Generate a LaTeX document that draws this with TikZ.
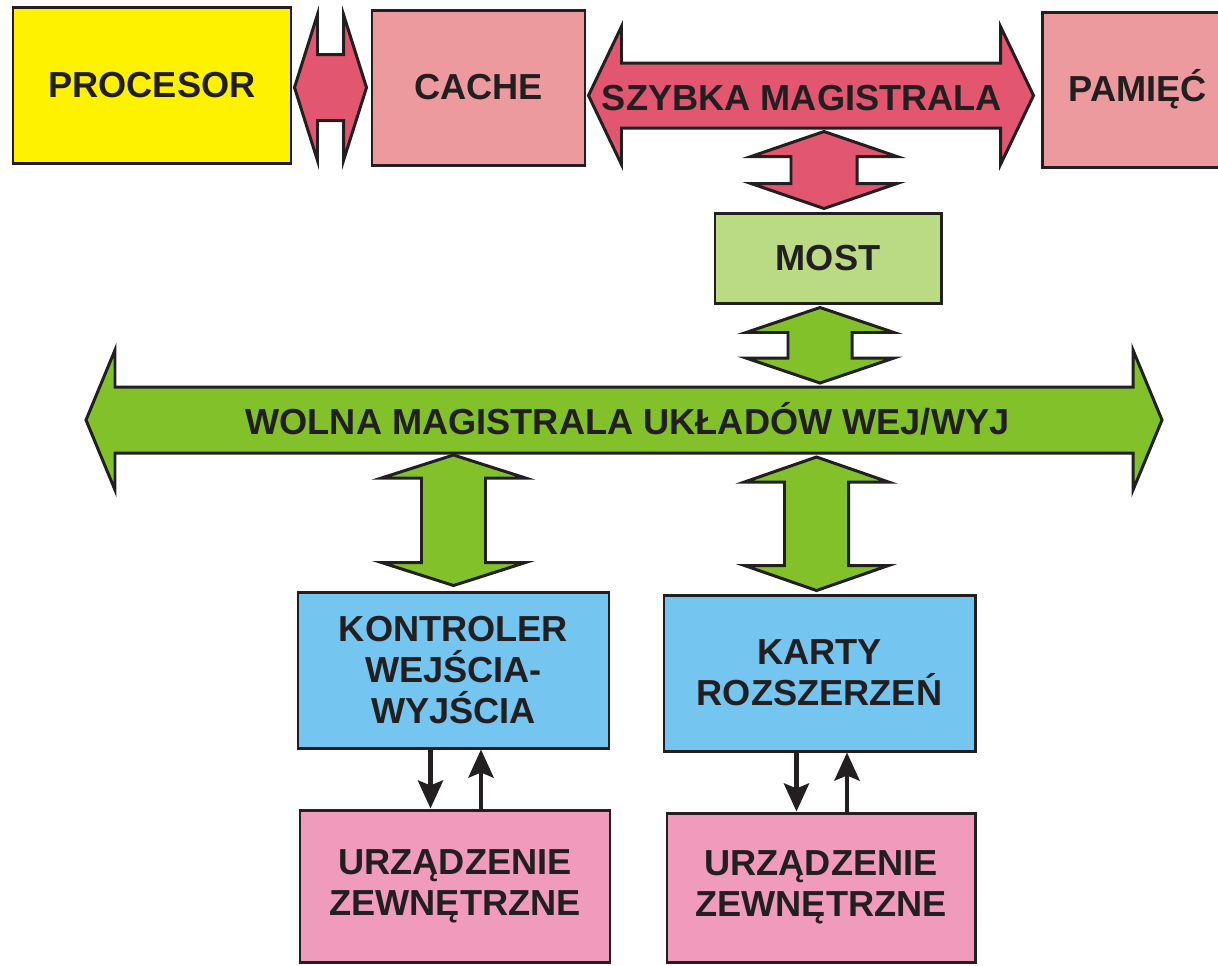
\documentclass[tikz,border=0pt]{standalone}
\usepackage{fontspec}
\setmainfont{Liberation Sans}
\usetikzlibrary{positioning}
\usetikzlibrary{calc}
\usetikzlibrary{arrows.meta}

\definecolor{ink}{HTML}{231F20}
\definecolor{cpufill}{HTML}{FFF200}
\definecolor{memfill}{HTML}{EC9A9E}
\definecolor{fastfill}{HTML}{E25670}
\definecolor{bridgefill}{HTML}{BBDA84}
\definecolor{slowfill}{HTML}{82C12A}
\definecolor{iofill}{HTML}{74C5EF}
\definecolor{devfill}{HTML}{F09ABC}

% fat double arrows: tip, tip, head length, head half width, shaft half width
\newcommand\fath[5]{(#1) -- ++(#3,-#4) -- ++(0,#4-#5) -- ($(#2)+(-#3,-#5)$)
  -- ++(0,#5-#4) -- (#2) -- ++(-#3,#4) -- ++(0,#5-#4) -- ($(#1)+(#3,#5)$)
  -- ++(0,#4-#5) -- cycle}
\newcommand\fatv[5]{(#1) -- ++(#4,#3) -- ++(#5-#4,0) -- ($(#2)+(#5,-#3)$)
  -- ++(#4-#5,0) -- (#2) -- ++(-#4,-#3) -- ++(#4-#5,0) -- ($(#1)+(-#5,#3)$)
  -- ++(#5-#4,0) -- cycle}

\tikzset{
  label font/.style = { font=\bfseries\fontsize{20.6}{23.5}\selectfont, text=ink },
  box/.style        = { rectangle, draw=ink, line width=1.7pt, align=center, label font },
  dims/.style 2 args= { minimum width=#1*0.02cm, minimum height=#2*0.02cm },
  cpu/.style        = { box, fill=cpufill },
  mem/.style        = { box, fill=memfill },
  bridge/.style     = { box, fill=bridgefill },
  ctrl/.style       = { box, fill=iofill },
  device/.style     = { box, fill=devfill },
  buslabel/.style   = { anchor=base, inner sep=0pt, label font },
  fastbus/.style    = { fill=fastfill, draw=ink, line width=1.7pt },
  slowbus/.style    = { fill=slowfill, draw=ink, line width=1.7pt },
  io/.style         = { draw=ink, line width=2.8pt,
                        -{Stealth[length=0.56cm,width=0.5cm,inset=0.1cm]} },
}

\begin{document}
\begin{tikzpicture}[x=0.02cm,y=-0.02cm]
  \useasboundingbox (0,0) rectangle (1218,965);

  \node (procesor)  [cpu,dims={278}{156}]    at (152,85)     {PROCESOR};
  \node (cache)     [mem,dims={213}{155}]    at (478.5,87.5) {CACHE};
  \node (pamiec)    [mem,dims={192}{155}]    at (1138,89.5)  {PAMIĘĆ};
  \node (most)      [bridge,dims={226}{90}]  at (828,258)    {MOST};
  \node (kontroler) [ctrl,dims={311}{156}]   at (453.5,670)  {KONTROLER\\WEJŚCIA-\\WYJŚCIA};
  \node (karty)     [ctrl,dims={311}{156}]   at (819.5,673)  {KARTY\\ROZSZERZEŃ};
  \node (dev1)      [device,dims={310}{152}] at (455,886)    {URZĄDZENIE\\ZEWNĘTRZNE};
  \node (dev2)      [device,dims={308}{149}] at (821,887.5)  {URZĄDZENIE\\ZEWNĘTRZNE};

  % tips of the fat arrows
  \coordinate (pcL)   at ($(procesor.east |- cache.west)+(2,0)$);
  \coordinate (pcR)   at ($(cache.west)+(-4,0)$);
  \coordinate (fastL) at ($(cache.east)+(2,8)$);
  \coordinate (fastR) at ($(pamiec.west)+(-7,6)$);
  \coordinate (slowL) at (86,420);
  \coordinate (slowR) at (1162,420);
  \coordinate (fastT) at ($(most.north)+(-4,-80)$);
  \coordinate (fastB) at ($(most.north)+(-4,-3)$);
  \coordinate (slowT) at ($(most.south)+(-8,3)$);
  \coordinate (slowB) at ($(most.south |- slowL)+(-8,-37)$);
  \coordinate (kT)    at ($(kontroler.north |- slowL)+(0,35)$);
  \coordinate (kB)    at ($(kontroler.north)+(0,-5)$);
  \coordinate (rT)    at ($(karty.north |- slowL)+(-3,37)$);
  \coordinate (rB)    at ($(karty.north)+(-3,-3)$);

  \draw [fastbus] \fath{pcL}{pcR}{23}{73}{33};
  \draw [fastbus] \fath{fastL}{fastR}{33}{69}{32.5};
  \draw [fastbus] \fatv{fastT}{fastB}{25}{73}{33};
  \draw [slowbus] \fath{slowL}{slowR}{29}{70}{33};
  \draw [slowbus] \fatv{slowT}{slowB}{25}{74}{32};
  \draw [slowbus] \fatv{kT}{kB}{23}{72}{32};
  \draw [slowbus] \fatv{rT}{rB}{25}{72}{32};

  \node (szybka) [buslabel] at (802,110)   {SZYBKA MAGISTRALA};
  \node (wolna)  [buslabel] at (627.5,434) {WOLNA MAGISTRALA UKŁADÓW WEJ/WYJ};

  \draw [io] ($(kontroler.south)+(-23,0)$) coordinate (kd) -- (kd |- dev1.north);
  \draw [io] ($(dev1.north)+(26,0)$) coordinate (ku) -- (ku |- kontroler.south);
  \draw [io] ($(karty.south)+(-23,0)$) coordinate (rd) -- (rd |- dev2.north);
  \draw [io] ($(dev2.north)+(26,0)$) coordinate (ru) -- (ru |- karty.south);

\end{tikzpicture}
\end{document}
